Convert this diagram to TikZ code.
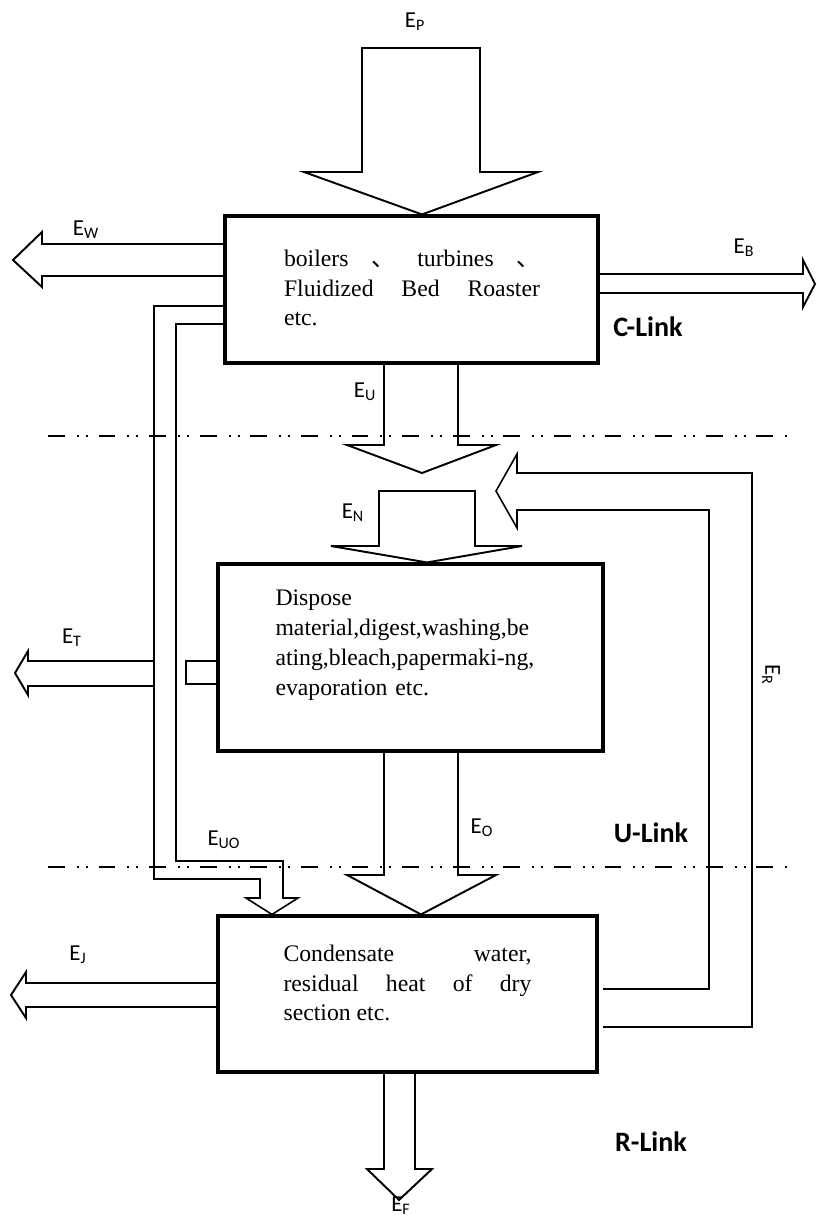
\documentclass[tikz,border=0pt]{standalone}
\usepackage{fontspec}
\setmainfont{Liberation Serif}
\newfontfamily\calibri{Carlito}
\newfontfamily\cjk{Noto Sans CJK SC}
\tikzset{
  every picture/.style={line width=1.1pt},
  stage/.style={draw, line width=1.8pt, inner sep=0pt},
  boxtext/.style={font=\fontsize{13.5}{17}\selectfont, align=justify, inner sep=0pt},
  flow/.style={draw, line width=1.1pt, line join=miter},
  pipe/.style={draw, line width=0.9pt, line join=miter},
  elabel/.style={font=\calibri\fontsize{13}{15}\selectfont, inner sep=0pt},
  linkname/.style={font=\calibri\bfseries\fontsize{16}{18}\selectfont, inner sep=0pt},
  linkborder/.style={line width=1.5pt, dash pattern=on 9.6pt off 6.8pt on 1.1pt off 4pt on 1.1pt off 6.2pt},
}

\begin{document}
\begin{tikzpicture}[x=0.02cm, y=-0.02cm]
  \useasboundingbox (0,0) rectangle (816,1217);
  % the three links
  \node[stage, minimum width=7.46cm, minimum height=2.94cm] (cbox) at (411.5,289.5) {};
  \node[stage, minimum width=7.7cm, minimum height=3.74cm] (ubox) at (410.5,657.5) {};
  \node[stage, minimum width=7.58cm, minimum height=3.12cm] (rbox) at (407.5,994) {};
  \node[boxtext, text width=5.12cm] (ctext) at (412,288) {boilers {\cjk 、} turbines {\cjk 、}\linebreak Fluidized Bed Roaster\linebreak etc.};
  \node[boxtext, text width=5.3cm, align=left] (utext) at (408,645) {Dispose\\material,digest,washing,be\\ating,bleach,papermaki-ng,\\evaporation etc.};
  \node[boxtext, text width=4.96cm] (rtext) at (407.5,983) {Condensate water,\linebreak residual heat of dry\linebreak section etc.};
  \draw[linkborder] (48,436) -- (792,436);
  \draw[linkborder] (48,867) -- (792,867);
  % energy flows
  \draw[flow] (362,48) -- (480,48) -- (480,172) -- (538,172) -- (422,0 |- cbox.north) -- (304,172) -- (362,172) -- cycle;
  \draw[flow] (cbox.west |- 0,244) -- (42,244) -- (42,232) -- (13,260) -- (42,287) -- (42,276) -- (cbox.west |- 0,276);
  \draw[flow] (cbox.east |- 0,274) -- (803,274) -- (803,260) -- (815,284) -- (803,307) -- (803,293) -- (cbox.east |- 0,293);
  \draw[flow] (384,0 |- cbox.south) -- (384,445) -- (347,445) -- (422,473) -- (496,445) -- (458,445) -- (458,0 |- cbox.south);
  \draw[flow] (379,546) -- (379,491) -- (475,491) -- (475,546) -- (522,546) -- (427,0 |- ubox.north) -- (331,546) -- cycle;
  \draw[flow] (384,0 |- ubox.south) -- (384,875) -- (347,875) -- (421,0 |- rbox.north) -- (496,875) -- (458,875) -- (458,0 |- ubox.south);
  \draw[flow] (384,0 |- rbox.south) -- (384,1169) -- (367,1169) -- (399,1200) -- (432,1169) -- (415,1169) -- (415,0 |- rbox.south);
  \draw[flow] (rbox.west |- 0,983) -- (26,983) -- (26,972) -- (11,995) -- (26,1018) -- (26,1007) -- (rbox.west |- 0,1007);
  \draw[flow] (154,661) -- (28,661) -- (28,651) -- (15,673) -- (28,695) -- (28,686) -- (154,686);
  \draw[flow] (ubox.west |- 0,661) -- (186,661) -- (186,684) -- (ubox.west |- 0,684);
  \draw[pipe] (cbox.west |- 0,306) -- (154,306) -- (154,879) -- (260,879) -- (260,898) -- (246,898) -- (272,0 |- rbox.north)
    -- (298,898) -- (283,898) -- (283,861) -- (176,861) -- (176,324) -- (cbox.west |- 0,324);
  \draw[pipe] (603,1027) -- (752,1027) -- (752,473) -- (517,473) -- (517,454) -- (496,491) -- (517,528) -- (517,510)
    -- (709,510) -- (709,989) -- (603,989);
  % labels
  \node[elabel] (ep) at (415,22) {E\textsubscript{P}};
  \node[elabel] (ew) at (86,230) {E\textsubscript{W}};
  \node[elabel] (eb) at (744,248) {E\textsubscript{B}};
  \node[elabel] (eu) at (365,392) {E\textsubscript{U}};
  \node[elabel] (en) at (353,513) {E\textsubscript{N}};
  \node[elabel] (et) at (72,638) {E\textsubscript{T}};
  \node[elabel, rotate=-90] (er) at (771,675) {E\textsubscript{R}};
  \node[elabel] (euo) at (224,840) {E\textsubscript{UO}};
  \node[elabel] (eo) at (482,828) {E\textsubscript{O}};
  \node[elabel] (ej) at (78,955) {E\textsubscript{J}};
  \node[elabel] (ef) at (401,1206) {E\textsubscript{F}};
  \node[linkname] (clink) at (648,327) {C-Link};
  \node[linkname] (ulink) at (651,833) {U-Link};
  \node[linkname] (rlink) at (651,1142) {R-Link};
\end{tikzpicture}
\end{document}
